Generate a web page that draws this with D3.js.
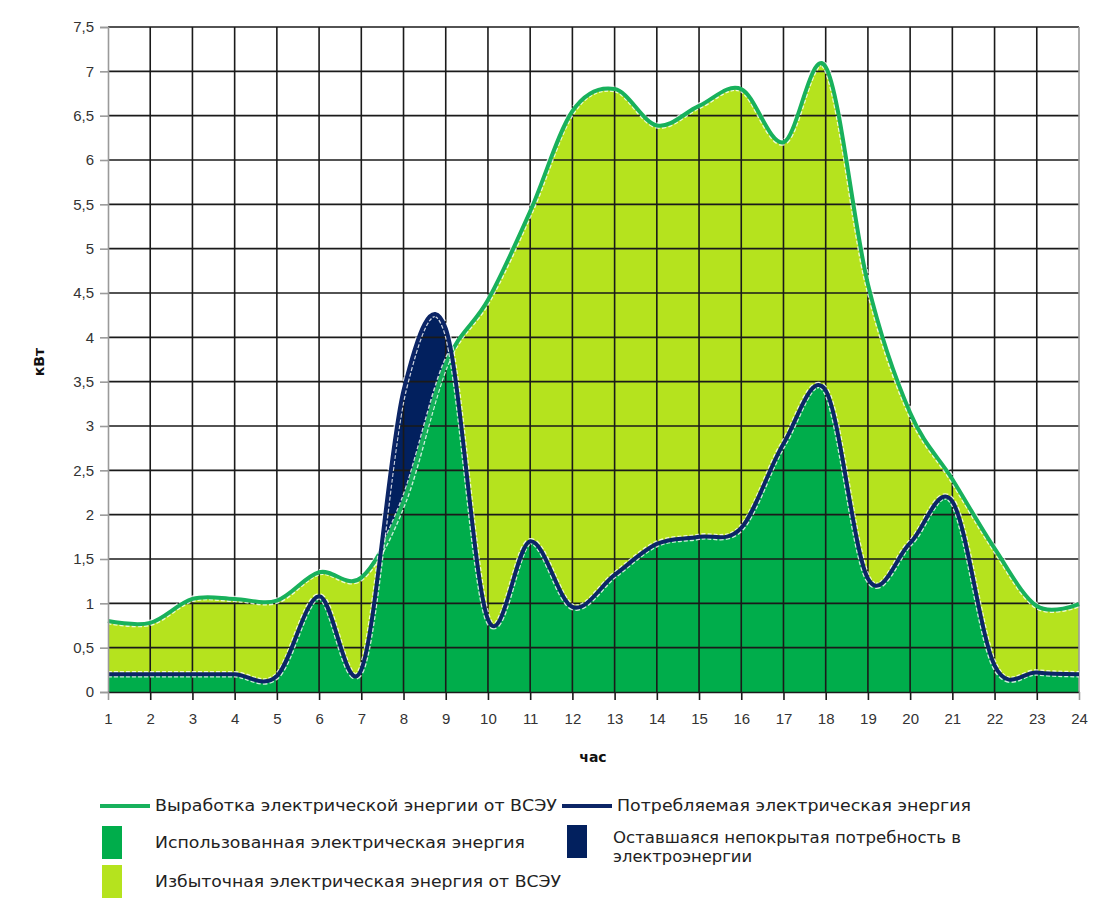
<!DOCTYPE html>
<html>
<head>
<meta charset="utf-8">
<script src="https://cdn.jsdelivr.net/npm/d3@7"></script>
<style>
  body { margin: 0; background: #fff; }
  svg { display: block; font-family: Verdana, "DejaVu Sans", sans-serif; }
  .tick-label { font-size: 15px; fill: #333; }
  .axis-title { font-size: 14px; font-weight: bold; fill: #111; }
  .legend-text { font-size: 15px; fill: #222; }
</style>
</head>
<body>
<svg id="chart"></svg>
<script>
const HOURS = [1, 2, 3, 4, 5, 6, 7, 8, 9, 10, 11, 12, 13, 14, 15, 16, 17, 18, 19, 20, 21, 22, 23, 24];
// Выработка электрической энергии от ВСЭУ, кВт
const GENERATION = [0.8, 0.78, 1.05, 1.05, 1.03, 1.35, 1.29, 2.15, 3.7, 4.42, 5.42, 6.55, 6.8, 6.39, 6.61, 6.8, 6.2, 7.05, 4.6, 3.15, 2.4, 1.62, 0.97, 0.99];
// Потребляемая электрическая энергия, кВт
const CONSUMPTION = [0.2, 0.2, 0.2, 0.2, 0.18, 1.08, 0.25, 3.4, 4.1, 0.82, 1.7, 0.96, 1.32, 1.67, 1.75, 1.85, 2.8, 3.4, 1.28, 1.68, 2.15, 0.3, 0.22, 0.2];
const Y_TICKS = [0, 0.5, 1, 1.5, 2, 2.5, 3, 3.5, 4, 4.5, 5, 5.5, 6, 6.5, 7, 7.5];

const LINE_LEGEND = [
  {label: 'Выработка электрической  энергии от ВСЭУ', key: 'gen'},
  {label: 'Потребляемая  электрическая энергия', key: 'cons'}
];
const AREA_LEGEND = [
  {label: ['Использованная электрическая энергия'], key: 'used'},
  {label: ['Оставшаяся непокрытая потребность в', 'электроэнергии'], key: 'deficit'},
  {label: ['Избыточная электрическая энергия от ВСЭУ'], key: 'surplus'}
];

const COLORS = {
  gen: '#18b15c',
  cons: '#0c2566',
  used: '#00ad4b',
  deficit: '#02205e',
  surplus: '#b5e31e'
};

class EnergyChart {
  constructor(_config) {
    this.config = {
      parentElement: _config.parentElement,
      containerWidth: 1112,
      containerHeight: 903,
      plot: {left: 108, right: 1079, top: 27, bottom: 692}
    };
    this.initVis();
  }

  initVis() {
    let vis = this;
    const p = vis.config.plot;

    vis.svg = d3.select(vis.config.parentElement)
      .attr('width', vis.config.containerWidth)
      .attr('height', vis.config.containerHeight);

    vis.xScale = d3.scaleLinear().domain([1, 24]).range([p.left, p.right]);
    vis.yScale = d3.scaleLinear().domain([0, 7.5]).range([p.bottom, p.top]);

    vis.curve = d3.curveCatmullRom.alpha(0);

    vis.data = HOURS.map((h, i) => ({hour: h, gen: GENERATION[i], cons: CONSUMPTION[i]}));

    vis.defs = vis.svg.append('defs');
    vis.areas = vis.svg.append('g').attr('class', 'areas');
    vis.grid = vis.svg.append('g').attr('class', 'grid');
    vis.lines = vis.svg.append('g').attr('class', 'lines');
    vis.axes = vis.svg.append('g').attr('class', 'axes');
    vis.legend = vis.svg.append('g').attr('class', 'legend');
  }

  renderVis() {
    let vis = this;
    const p = vis.config.plot;
    const x = vis.xScale, y = vis.yScale;

    const areaOf = key => d3.area()
      .x(d => x(d.hour))
      .y0(y(0))
      .y1(d => y(d[key]))
      .curve(vis.curve);
    const lineOf = key => d3.line()
      .x(d => x(d.hour))
      .y(d => y(d[key]))
      .curve(vis.curve);

    // clip: everything under the generation curve
    vis.defs.append('clipPath')
      .attr('id', 'under-gen')
      .append('path')
      .attr('d', areaOf('gen')(vis.data));

    // deficit first, surplus covers it where generation is higher
    vis.areas.append('path')
      .attr('d', areaOf('cons')(vis.data))
      .attr('fill', COLORS.deficit);
    vis.areas.append('path')
      .attr('d', areaOf('gen')(vis.data))
      .attr('fill', COLORS.surplus);
    vis.areas.append('path')
      .attr('d', areaOf('cons')(vis.data))
      .attr('clip-path', 'url(#under-gen)')
      .attr('fill', COLORS.used);

    // grid
    vis.grid.selectAll('.h-grid')
      .data(Y_TICKS.filter(d => d > 0))
      .join('line')
      .attr('class', 'h-grid')
      .attr('x1', p.left).attr('x2', p.right)
      .attr('y1', d => y(d)).attr('y2', d => y(d))
      .attr('stroke', '#1a1a1a')
      .attr('stroke-width', 1.6);
    vis.grid.selectAll('.v-grid')
      .data(HOURS.slice(1, -1))
      .join('line')
      .attr('class', 'v-grid')
      .attr('x1', d => x(d)).attr('x2', d => x(d))
      .attr('y1', p.top).attr('y2', p.bottom)
      .attr('stroke', '#1a1a1a')
      .attr('stroke-width', 1.6);
    vis.grid.append('line')
      .attr('x1', p.right).attr('x2', p.right)
      .attr('y1', p.top).attr('y2', p.bottom)
      .attr('stroke', '#9a9a9a').attr('stroke-width', 1.6);

    // lines with a light dashed halo
    ['gen', 'cons'].forEach(key => {
      vis.lines.append('path')
        .attr('d', lineOf(key)(vis.data))
        .attr('fill', 'none')
        .attr('stroke', '#ffffff')
        .attr('stroke-opacity', 0.8)
        .attr('stroke-dasharray', '4,2')
        .attr('stroke-width', 6.5);
      vis.lines.append('path')
        .attr('d', lineOf(key)(vis.data))
        .attr('fill', 'none')
        .attr('stroke', COLORS[key])
        .attr('stroke-width', 4)
        .attr('stroke-linejoin', 'round');
    });

    // axes
    const yAxis = d3.axisLeft(y)
      .tickValues(Y_TICKS)
      .tickSize(8)
      .tickPadding(6)
      .tickFormat(d => String(d).replace('.', ','));
    const yAxisG = vis.axes.append('g')
      .attr('transform', `translate(${p.left},0)`)
      .call(yAxis);
    yAxisG.select('.domain').attr('stroke', '#9a9a9a').attr('stroke-width', 1.6);
    yAxisG.selectAll('.tick line').attr('stroke', '#9a9a9a').attr('stroke-width', 1.6);
    yAxisG.selectAll('.tick text').attr('class', 'tick-label').attr('font-family', null).attr('font-size', null);

    const xAxis = d3.axisBottom(x)
      .tickValues(HOURS)
      .tickSize(8)
      .tickPadding(13)
      .tickSizeOuter(0)
      .tickFormat(d => d);
    const xAxisG = vis.axes.append('g')
      .attr('transform', `translate(0,${p.bottom})`)
      .call(xAxis);
    xAxisG.select('.domain').attr('stroke', '#1a1a1a').attr('stroke-width', 1.6);
    xAxisG.selectAll('.tick line').attr('stroke', '#1a1a1a').attr('stroke-width', 1.6);
    xAxisG.selectAll('.tick line').filter(d => d === 1 || d === 24).attr('stroke', '#9a9a9a');
    xAxisG.selectAll('.tick text').attr('class', 'tick-label').attr('font-family', null).attr('font-size', null);

    vis.axes.append('text')
      .attr('class', 'axis-title')
      .attr('x', 593).attr('y', 762)
      .attr('text-anchor', 'middle')
      .text('час');
    vis.axes.append('text')
      .attr('class', 'axis-title')
      .attr('transform', 'translate(44,362) rotate(-90)')
      .attr('text-anchor', 'middle')
      .text('кВт');

    // legend
    const lineItems = vis.legend.selectAll('.legend-line')
      .data(LINE_LEGEND)
      .join('g')
      .attr('class', 'legend-line')
      .attr('transform', (d, i) => `translate(${i === 0 ? 100 : 562},806)`);
    lineItems.append('line')
      .attr('x1', 0).attr('x2', 50)
      .attr('stroke', d => COLORS[d.key])
      .attr('stroke-width', 4);
    lineItems.append('text')
      .attr('class', 'legend-text')
      .attr('x', 55).attr('y', 5)
      .attr('textLength', (d, i) => i === 0 ? 402 : 354)
      .attr('lengthAdjust', 'spacingAndGlyphs')
      .text(d => d.label);

    const areaPos = {used: [102, 826], deficit: [567, 825], surplus: [102, 865]};
    const areaLen = {used: [370], deficit: [348, 139], surplus: [406]};
    const areaItems = vis.legend.selectAll('.legend-area')
      .data(AREA_LEGEND)
      .join('g')
      .attr('class', 'legend-area')
      .attr('transform', d => `translate(${areaPos[d.key][0]},${areaPos[d.key][1]})`);
    areaItems.append('rect')
      .attr('width', 20).attr('height', 33)
      .attr('fill', d => COLORS[d.key]);
    areaItems.each(function(d) {
      const g = d3.select(this);
      d.label.forEach((t, i) => {
        g.append('text')
          .attr('class', 'legend-text')
          .attr('x', d.key === 'deficit' ? 46 : 53)
          .attr('y', 22 + i * 19 - (d.label.length > 1 ? 4 : 0))
          .attr('textLength', areaLen[d.key][i])
          .attr('lengthAdjust', 'spacingAndGlyphs')
          .text(t);
      });
    });
  }
}

const chart = new EnergyChart({parentElement: '#chart'});
chart.renderVis();
</script>
</body>
</html>
